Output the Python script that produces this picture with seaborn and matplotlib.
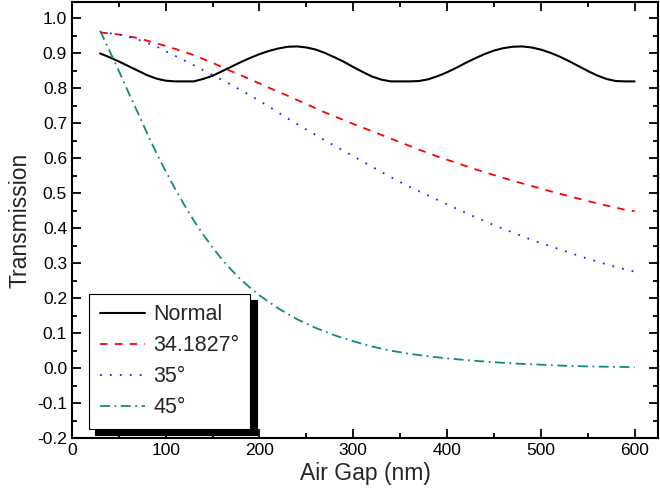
import matplotlib
matplotlib.use("Agg")
import matplotlib.pyplot as plt
import seaborn as sns
from matplotlib.ticker import MultipleLocator

# Data
gap_normal = [30, 40, 50, 60, 70, 80, 90, 100, 110, 120, 130, 140, 150, 160, 170,
              180, 190, 200, 210, 220, 230, 240, 250, 260, 270, 280, 290, 300, 310,
              320, 330, 340, 350, 360, 370, 380, 390, 400, 410, 420, 430, 440, 450,
              460, 470, 480, 490, 500, 510, 520, 530, 540, 550, 560, 570, 580, 590, 600]
t_normal = [0.900, 0.889, 0.877, 0.864, 0.851, 0.838, 0.828, 0.822, 0.820, 0.820,
            0.820, 0.827, 0.836, 0.849, 0.862, 0.875, 0.887, 0.898, 0.907, 0.914,
            0.919, 0.920, 0.917, 0.911, 0.901, 0.889, 0.876, 0.861, 0.847, 0.834,
            0.825, 0.820, 0.820, 0.820, 0.821, 0.826, 0.835, 0.846, 0.859, 0.873,
            0.886, 0.898, 0.908, 0.915, 0.919, 0.920, 0.917, 0.911, 0.902, 0.891,
            0.878, 0.864, 0.850, 0.837, 0.827, 0.821, 0.820, 0.820]

gap_angle = [30, 50, 70, 90, 110, 130, 150, 170, 190, 210, 230, 250, 270, 290, 310,
             330, 350, 370, 390, 410, 430, 450, 470, 490, 510, 530, 550, 570, 590, 600]
t_341827 = [0.960, 0.954, 0.944, 0.929, 0.913, 0.895, 0.873, 0.849, 0.826, 0.802,
            0.779, 0.755, 0.731, 0.709, 0.688, 0.667, 0.646, 0.625, 0.605, 0.587,
            0.569, 0.552, 0.536, 0.521, 0.506, 0.492, 0.478, 0.465, 0.453, 0.449]
t_35 = [0.960, 0.955, 0.940, 0.920, 0.893, 0.866, 0.838, 0.810, 0.780, 0.748,
        0.714, 0.682, 0.651, 0.621, 0.591, 0.561, 0.532, 0.506, 0.481, 0.456,
        0.432, 0.409, 0.388, 0.367, 0.349, 0.331, 0.313, 0.297, 0.282, 0.276]

gap_45 = [30, 40, 50, 60, 70, 80, 90, 100, 110, 120, 130, 140, 150, 160, 170, 180,
          190, 200, 220, 240, 260, 280, 300, 320, 340, 360, 380, 400, 425, 450, 475,
          500, 525, 550, 575, 600]
t_45 = [0.965, 0.908, 0.850, 0.790, 0.732, 0.673, 0.615, 0.563, 0.513, 0.466,
        0.422, 0.382, 0.345, 0.311, 0.281, 0.254, 0.230, 0.208, 0.171, 0.140,
        0.115, 0.094, 0.077, 0.062, 0.050, 0.041, 0.034, 0.028, 0.022, 0.017,
        0.013, 0.010, 0.007, 0.005, 0.004, 0.003]

sns.set_style("white")
plt.rcParams['font.family'] = ['Liberation Sans', 'DejaVu Sans']

fig, ax = plt.subplots(figsize=(6.6, 4.99), dpi=100)
fig.subplots_adjust(left=0.109, right=0.997, top=0.996, bottom=0.122)

sns.lineplot(x=gap_normal, y=t_normal, ax=ax, color='black', lw=1.5,
             label='Normal')
sns.lineplot(x=gap_angle, y=t_341827, ax=ax, color='#ff0000', lw=1.3,
             linestyle=(0, (4.2, 4.0)), label='34.1827°')
sns.lineplot(x=gap_angle, y=t_35, ax=ax, color='#2020ff', lw=1.3,
             linestyle=(0, (1, 4.5)), label='35°')
sns.lineplot(x=gap_45, y=t_45, ax=ax, color='#108a80', lw=1.3,
             linestyle=(0, (5.5, 2.5, 1, 2.5)), label='45°')

ax.set_xlim(0, 625)
ax.set_ylim(-0.2, 1.047)
ax.xaxis.set_major_locator(MultipleLocator(100))
ax.xaxis.set_minor_locator(MultipleLocator(50))
ax.yaxis.set_major_locator(MultipleLocator(0.1))
ax.yaxis.set_minor_locator(MultipleLocator(0.05))
ax.yaxis.set_major_formatter(matplotlib.ticker.FormatStrFormatter('%.1f'))

ax.tick_params(which='both', direction='in', top=True, right=True,
               bottom=True, left=True, width=1.3, labelsize=12.5, colors='black')
ax.tick_params(which='major', length=6.5, pad=3.5)
ax.tick_params(which='minor', length=3.5)
for s in ax.spines.values():
    s.set_linewidth(1.5)
    s.set_color('black')

ax.set_xlabel('Air Gap (nm)', fontsize=16.5, labelpad=3)
ax.set_ylabel('Transmission', fontsize=16.5, labelpad=4)

leg = ax.legend(loc='lower left', bbox_to_anchor=(0.029, 0.021), borderaxespad=0,
                fontsize=15.5, frameon=True, fancybox=False, handlelength=2.1,
                handletextpad=0.4, labelspacing=0.46, borderpad=0.5,
                shadow={'ox': 4.7, 'oy': -4.7, 'color': 'black', 'alpha': 1})
leg.get_frame().set_edgecolor('black')
leg.get_frame().set_linewidth(0.8)
leg.get_frame().set_alpha(1)

plt.savefig('out.png', dpi=100)
